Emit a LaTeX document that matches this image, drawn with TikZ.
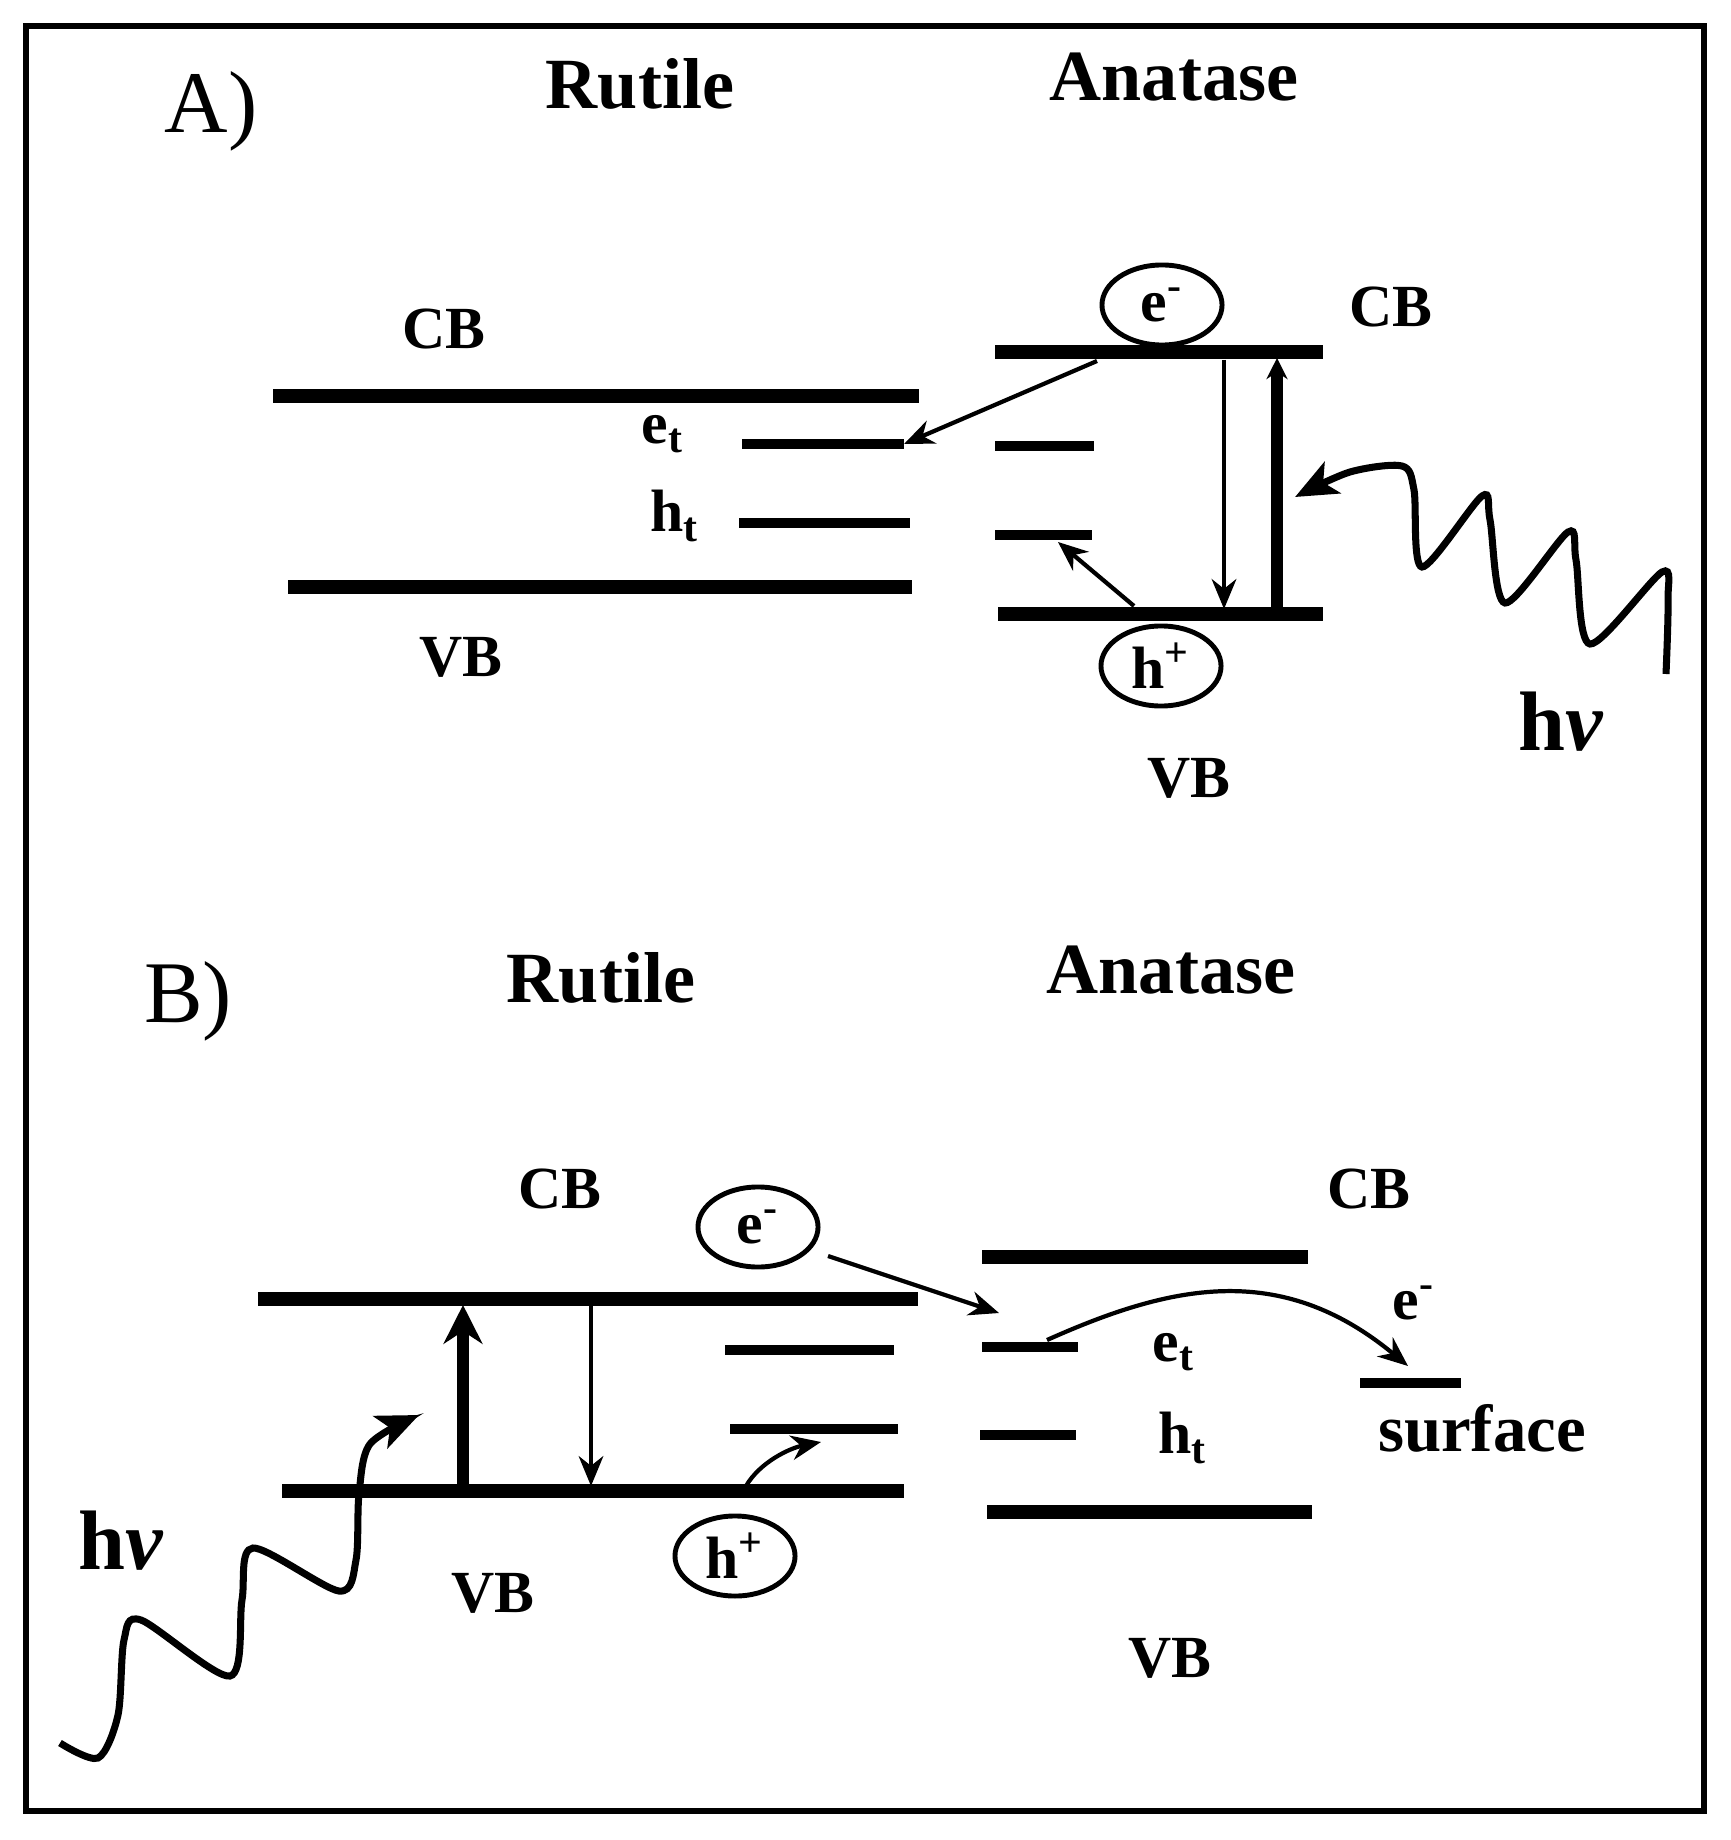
\documentclass[tikz,border=0pt]{standalone}
\usepackage{fontspec}
\setmainfont{Liberation Serif}
\usetikzlibrary{arrows.meta,shapes.geometric}

\begin{document}
\begin{tikzpicture}[x=0.01cm, y=-0.01cm,
    band/.style={line width=4pt},
    trap/.style={line width=2.8pt},
    flow/.style={line width=1.2pt, -{Stealth[length=8.5pt,width=7pt]}},
    excite/.style={line width=3.2pt, -{Stealth[length=6pt,width=6pt]}},
    photon/.style={line width=2pt, -{Stealth[length=12pt,width=10pt,inset=3pt]}},
    carrier/.style={draw, ellipse, line width=1.4pt, minimum width=1.2cm,
        minimum height=0.8cm, inner sep=0pt, font=\fontsize{17}{20}\selectfont\bfseries},
    title/.style={font=\fontsize{20.5}{24}\selectfont\bfseries},
    lbl/.style={font=\fontsize{17}{20}\selectfont\bfseries},
    panel/.style={font=\fontsize{25}{30}\selectfont},
    hnu/.style={font=\fontsize{24}{28}\selectfont\bfseries}]
    \useasboundingbox (0,0) rectangle (1730,1840);
    % Frame
    \draw[line width=1.7pt] (26,26) rectangle (1704,1811);

    % A) Titles
    \node[panel] (pA) at (211,111) {A)};
    \node[title] (rutA) at (640,84) {Rutile};
    \node[title] (anaA) at (1174,77) {Anatase};

    % A) Rutile levels
    \draw[band] (273,396) -- (919,396);
    \draw[trap] (742,444) -- (904,444) coordinate (retA);
    \draw[trap] (739,523) -- (910,523);
    \draw[band] (288,587) -- (912,587);
    \node[lbl] (cbRA) at (444,329) {CB};
    \node[lbl] (vbRA) at (461,657) {VB};
    \node[lbl] (etRA) at (663,434) {e\textsubscript{t}};
    \node[lbl] (htRA) at (675,516) {h\textsubscript{t}};

    % A) Anatase levels
    \draw[band] (995,352) coordinate (acbA) -- (1323,352);
    \draw[trap] (995,446) -- (1094,446);
    \draw[trap] (995,535) -- (1092,535);
    \draw[band] (998,614) coordinate (avbA) -- (1323,614);
    \node[carrier] (eA) at (1162,305) {e\textsuperscript{-}};
    \node[carrier] (hA) at (1161,666) {h\textsuperscript{+}};
    \node[lbl] (cbAA) at (1391,307) {CB};
    \node[lbl] (vbAA) at (1189,778) {VB};

    % A) Transfers
    \coordinate (fromA) at (1097,361);
    \draw[flow] (fromA) -- (retA);
    \coordinate (dnA1) at (1224,360);
    \coordinate (dnA2) at (1224,609);
    \draw[flow] (dnA1) -- (dnA2);
    \coordinate (upA1) at (1277,614);
    \coordinate (upA2) at (1277,358);
    \draw[excite] (upA1) -- (upA2);
    \coordinate (hfromA) at (1134,606);
    \coordinate (htoA) at (1058,542);
    \draw[flow] (hfromA) -- (htoA);

    % A) Light
    \draw[photon] plot[smooth, tension=0.5] coordinates {(1666,674) (1668,600) (1662,572)
        (1590,644) (1576,560) (1568,532) (1505,603) (1490,520) (1482,496) (1422,567)
        (1414,490) (1402,466) (1350,472) (1295,497)};
    \node[hnu] (hvA) at (1561,722) {h\textit{ν}};

    % B) Titles
    \node[panel] (pB) at (188,1001) {B)};
    \node[title] (rutB) at (601,978) {Rutile};
    \node[title] (anaB) at (1171,970) {Anatase};

    % B) Rutile levels
    \draw[band] (258,1299) -- (918,1299);
    \draw[trap] (725,1350) -- (894,1350);
    \draw[trap] (730,1429) -- (898,1429);
    \draw[band] (282,1491) -- (904,1491);
    \node[lbl] (cbRB) at (560,1189) {CB};
    \node[lbl] (vbRB) at (493,1593) {VB};
    \node[carrier] (eB) at (758,1227) {e\textsuperscript{-}};
    \node[carrier] (hB) at (735,1556) {h\textsuperscript{+}};

    % B) Anatase levels
    \draw[band] (982,1257) -- (1308,1257);
    \draw[trap] (982,1347) -- (1078,1347);
    \draw[trap] (980,1435) -- (1076,1435);
    \draw[band] (987,1512) -- (1312,1512);
    \node[lbl] (cbAB) at (1369,1189) {CB};
    \node[lbl] (vbAB) at (1170,1658) {VB};
    \node[lbl] (etAB) at (1174,1352) {e\textsubscript{t}};
    \node[lbl] (htAB) at (1183,1438) {h\textsubscript{t}};
    \node[lbl] (eS) at (1414,1303) {e\textsuperscript{-}};
    \draw[trap] (1360,1383) -- (1461,1383);
    \node[lbl, font=\fontsize{19}{22}\selectfont\bfseries] (surf) at (1482,1428) {surface};

    % B) Transfers
    \coordinate (upB1) at (463,1491);
    \coordinate (upB2) at (463,1305);
    \draw[line width=3.4pt, -{Stealth[length=11pt,width=11pt]}] (upB1) -- (upB2);
    \coordinate (dnB1) at (591,1305);
    \coordinate (dnB2) at (591,1486);
    \draw[flow] (dnB1) -- (dnB2);
    \coordinate (eoutB) at (828,1256);
    \coordinate (etinB) at (999,1313);
    \draw[flow] (eoutB) -- (etinB);
    \coordinate (etoutB) at (1047,1340);
    \coordinate (surfB) at (1408,1366);
    \draw[flow] (etoutB) .. controls (1170,1285) and (1280,1260) .. (surfB);
    \coordinate (houtB) at (746,1486);
    \coordinate (htinB) at (821,1442);
    \draw[flow] (houtB) .. controls (760,1462) and (790,1448) .. (htinB);

    % B) Light
    \draw[photon] plot[smooth, tension=0.5] coordinates {(60,1743) (98,1758) (118,1715)
        (124,1640) (141,1620) (230,1676) (242,1600) (253,1548) (339,1591) (356,1560)
        (359,1494) (370,1444) (419,1415)};
    \node[hnu] (hvB) at (121,1541) {h\textit{ν}};
\end{tikzpicture}
\end{document}
